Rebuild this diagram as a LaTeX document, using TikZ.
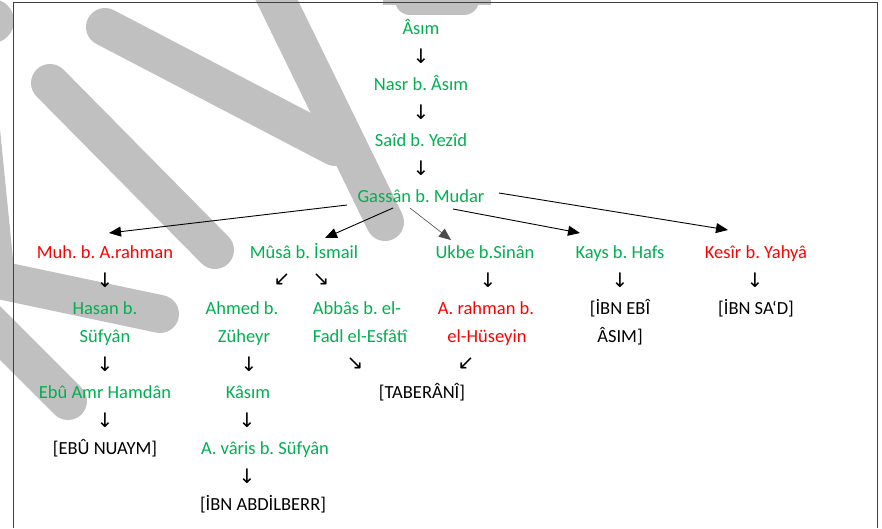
\documentclass[tikz,border=0pt]{standalone}
\usepackage{fontspec}
\setmainfont{Carlito}
\newfontfamily\arrowfont{DejaVu Sans}
\usetikzlibrary{arrows.meta,calc}
\definecolor{grn}{RGB}{0,176,80}
\definecolor{rd}{RGB}{255,0,0}
\definecolor{wm}{RGB}{192,192,192}
\definecolor{framec}{RGB}{64,64,64}
\frenchspacing
\begin{document}
\begin{tikzpicture}[x=1pt,y=-1pt,
  nm/.style={anchor=base,inner sep=0pt,font=\fontsize{18.5}{22}\selectfont},
  gn/.style={nm,text=grn},
  rn/.style={nm,text=rd},
  kn/.style={nm,text=black},
  ar/.style={inner sep=0pt,font=\arrowfont\fontsize{20}{22}\selectfont},
  conn/.style={-{Triangle[length=12pt,width=10pt]},line width=0.9pt,draw=black},
  thinconn/.style={-{Triangle[length=12pt,width=10pt]},line width=0.6pt,draw=black!70},
  wmk/.style={line width=38pt,line cap=round,draw=wm}]
\useasboundingbox (0,0) rectangle (882,528);
% watermark
\begin{scope}
\clip (0,0) rectangle (882,528);
\draw[wmk] (105,27)--(335,147);
\draw[wmk] (262,-30)--(385,222);
\draw[wmk] (50,83)--(215,250);
\draw[wmk] (-20,276)--(160,314);
\draw[wmk] (-24,80)--(-4,280);
\draw[wmk] (-40,293)--(68,401);
\fill[wm] (-8,21) circle[radius=22pt];
\fill[wm] (383,0) rectangle (491,5);
\draw[wm,line width=30pt,line cap=round] (410,0) -- (464,0);
\end{scope}
% frame
\draw[framec,line width=1pt] (13,528)--(13,2)--(877,2)--(877,528);
% main chain
\node[gn] (asim) at (421,34) {Âsım};
\node[ar] (a1) at (421,56) {↓};
\node[gn] (nasr) at (421,90) {Nasr b. Âsım};
\node[ar] (a2) at (421,112) {↓};
\node[gn] (said) at (421,146) {Saîd b. Yezîd};
\node[ar] (a3) at (421,168) {↓};
\node[gn] (gassan) at (421,202) {Gassân b. Mudar};
% children
\node[rn] (muh) at (105,258) {Muh. b. A.rahman};
\node[gn] (musa) at (304,258) {Mûsâ b. İsmail};
\node[gn] (ukbe) at (485,258) {Ukbe b.Sinân};
\node[gn] (kays) at (620,258) {Kays b. Hafs};
\node[rn] (kesir) at (756,258) {Kesîr b. Yahyâ};
% connectors
\draw[conn] ($(gassan.base)+(-74,3)$) -- ($(muh.base)+(4,-25)$);
\draw[conn] ($(gassan.base)+(-28,6)$) -- ($(musa.base)+(21,-20)$);
\draw[thinconn] ($(gassan.base)+(-11,6)$) -- ($(ukbe.base)+(-34,-18)$);
\draw[conn] ($(gassan.base)+(32,7)$) -- ($(kays.base)+(-40,-25)$);
\draw[conn] ($(gassan.base)+(78,-9)$) -- ($(kesir.base)+(-28,-28)$);
% row 9 arrows
\node[ar] (a4) at (105,280) {↓};
\node[ar] (a5) at (282,280) {↙};
\node[ar] (a6) at (321,280) {↘};
\node[ar] (a7) at (488,280) {↓};
\node[ar] (a8) at (620,280) {↓};
\node[ar] (a9) at (755,280) {↓};
% rows 10-11
\node[gn] (hasanA) at (105,314) {Hasan b.};
\node[gn] (hasanB) at (105,342) {Süfyân};
\node[gn] (ahmedA) at (242,314) {Ahmed b.};
\node[gn] (ahmedB) at (244,342) {Züheyr};
\node[gn] (abbasA) at (357,314) {Abbâs b. el-};
\node[gn] (abbasB) at (360,342) {Fadl el-Esfâtî};
\node[rn] (rahmanA) at (486,314) {A. rahman b.};
\node[rn] (rahmanB) at (487,342) {el-Hüseyin};
\node[kn] (ibnebiA) at (620,314) {[İBN EBÎ};
\node[kn] (ibnebiB) at (620,342) {ÂSIM]};
\node[kn] (ibnsad) at (756,314) {[İBN SA‘D]};
% row 12
\node[ar] (a10) at (105,364) {↓};
\node[ar] (a11) at (249,364) {↓};
\node[ar] (a12) at (355,364) {↘};
\node[ar] (a13) at (466,364) {↙};
% row 13
\node[gn] (ebuamr) at (105,398) {Ebû Amr Hamdân};
\node[gn] (kasim) at (248,398) {Kâsım};
\node[kn] (taberani) at (422,398) {[TABERÂNÎ]};
% row 14
\node[ar] (a14) at (105,420) {↓};
\node[ar] (a15) at (247,420) {↓};
% row 15
\node[kn] (ebunuaym) at (105,454) {[EBÛ NUAYM]};
\node[gn] (avaris) at (265,454) {A. vâris b. Süfyân};
\node[ar] (a16) at (247,476) {↓};
\node[kn] (ibnabd) at (263,510) {[İBN ABDİLBERR]};
\end{tikzpicture}
\end{document}
